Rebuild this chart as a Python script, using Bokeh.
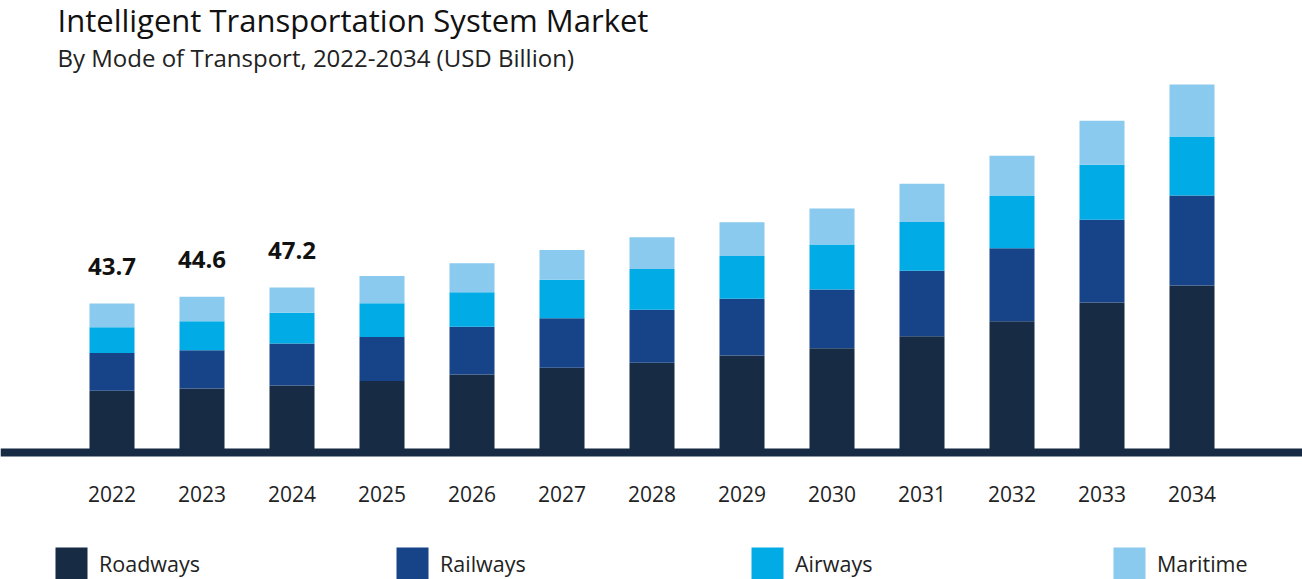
from bokeh.plotting import figure
from bokeh.models import Range1d, Span, Label, Legend, LegendItem, ColumnDataSource
from bokeh.core.properties import value
from bokeh.embed import file_html
from bokeh.resources import INLINE

# ---------------- data ----------------
years = ["2022", "2023", "2024", "2025", "2026", "2027", "2028",
         "2029", "2030", "2031", "2032", "2033", "2034"]
roadways = [18.1, 18.7, 19.6, 20.9, 22.8, 24.8, 26.3, 28.4, 30.5, 34.0, 38.4, 43.9, 48.9]
railways = [11.0, 11.2, 12.3, 12.9, 14.0, 14.5, 15.5, 16.6, 17.2, 19.2, 21.4, 24.2, 26.3]
airways = [7.6, 8.5, 9.0, 9.9, 10.1, 11.3, 11.9, 12.5, 13.2, 14.3, 15.4, 16.1, 17.3]
maritime = [6.9, 7.2, 7.4, 8.0, 8.5, 8.7, 9.3, 9.9, 10.5, 11.2, 11.7, 12.9, 15.2]
label_years = ["2022", "2023", "2024"]
label_texts = ["43.7", "44.6", "47.2"]
modes = ["Roadways", "Railways", "Airways", "Maritime"]
colors = ["#172B45", "#174489", "#00ABE6", "#89CAEE"]

title_text = "Intelligent Transportation System Market"
subtitle_text = "By Mode of Transport, 2022-2034 (USD Billion)"

FONT = "Open Sans"
W, H = 1302, 579
SLOT = 90.0        # px per category
YS = 3.416         # px per USD billion
X0 = -111.5 / SLOT
Y0 = -127 / YS

xs = list(range(len(years)))
src = ColumnDataSource(dict(x=xs, year=years, Roadways=roadways, Railways=railways,
                            Airways=airways, Maritime=maritime))

p = figure(width=W, height=H, output_backend="svg", toolbar_location=None,
           x_range=Range1d(X0, X0 + W / SLOT), y_range=Range1d(Y0, Y0 + H / YS),
           min_border=0, x_axis_location=None, y_axis_location=None)
p.grid.visible = False
p.outline_line_color = None
p.background_fill_color = "white"
p.border_fill_color = "white"

renderers = p.vbar_stack(modes, x="x", width=0.5, color=colors, line_color=None, source=src)

# baseline axis band
p.add_layout(Span(location=0, dimension="width", line_color="#172B45", line_width=8))

# year tick labels
p.text(x="x", y=0, text="year", source=src, text_align="center", text_baseline="alphabetic",
       y_offset=41, text_font=value(FONT), text_font_size=value("21px"), text_color="#222222")

# value labels over the first bars
totals = {y: r + ra + a + m for y, r, ra, a, m in zip(years, roadways, railways, airways, maritime)}
lab_src = ColumnDataSource(dict(x=[years.index(y) for y in label_years],
                                y=[totals[y] for y in label_years], t=label_texts))
p.text(x="x", y="y", text="t", source=lab_src, text_align="center", text_baseline="alphabetic",
       y_offset=-37, text_font=value(FONT), text_font_size=value("24px"),
       text_font_style="bold", text_color="#111111")

# titles
p.add_layout(Label(x=57, y=H - 19, x_units="screen", y_units="screen", text=title_text,
                   text_font=FONT, text_font_size="31px", text_color="#111111",
                   text_baseline="alphabetic"))
p.add_layout(Label(x=57, y=H - 57, x_units="screen", y_units="screen", text=subtitle_text,
                   text_font=FONT, text_font_size="24px", text_color="#222222",
                   text_baseline="alphabetic"))

# legends, one per mode, spread along the bottom
leg_x = [51, 392, 747, 1109]
for r, m, lx in zip(renderers, modes, leg_x):
    leg = Legend(items=[LegendItem(label=m, renderers=[r])], location=(lx, -4),
                 orientation="horizontal", glyph_width=40, glyph_height=40,
                 label_standoff=8, padding=0, margin=0, spacing=0,
                 border_line_color=None, background_fill_alpha=0,
                 label_text_font=FONT, label_text_font_size="21.5px",
                 label_text_color="#222222", label_height=40)
    p.add_layout(leg)

open("out.html", "w").write(file_html(p, INLINE))
